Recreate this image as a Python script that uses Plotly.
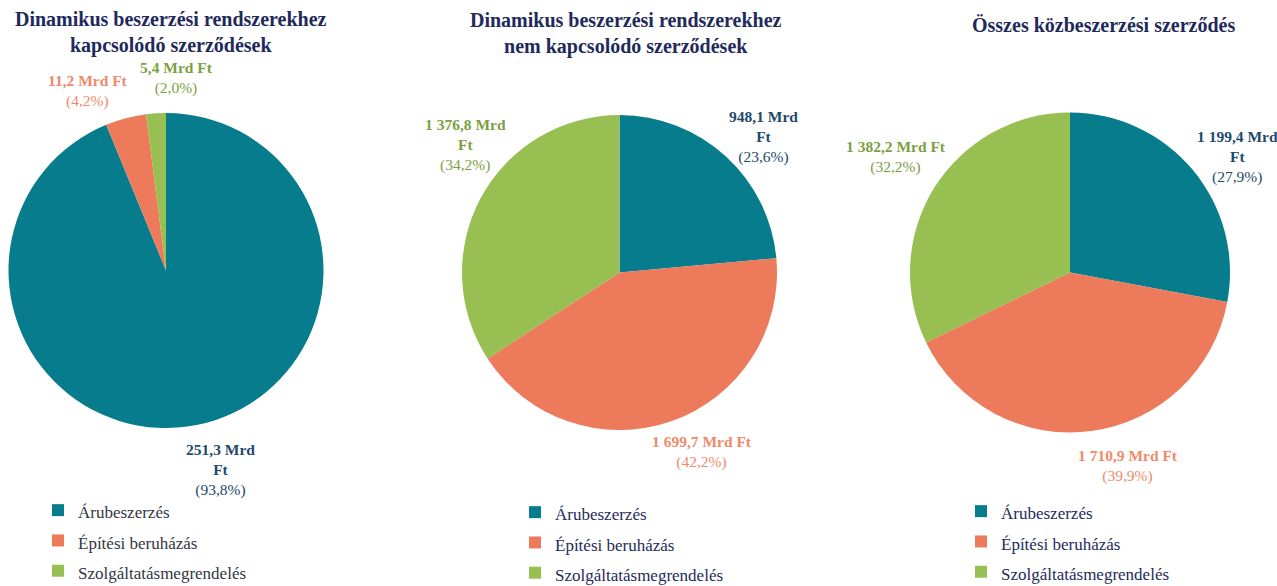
import plotly.graph_objects as go

# ---- data ----
categories = ["Árubeszerzés", "Építési beruházás", "Szolgáltatásmegrendelés"]
chart_titles = [
    "Dinamikus beszerzési rendszerekhez<br>kapcsolódó szerződések",
    "Dinamikus beszerzési rendszerekhez<br>nem kapcsolódó szerződések",
    "Összes közbeszerzési szerződés",
]
values_dbr = [251.3, 11.2, 5.4]
values_nem_dbr = [948.1, 1699.7, 1376.8]
values_osszes = [1199.4, 1710.9, 1382.2]
series = [values_dbr, values_nem_dbr, values_osszes]

# ---- styles / layout ----
W, H = 1277, 586
slice_colors = ["#067C8C", "#EC7A5B", "#97BF51"]
label_colors = ["#21496A", "#F0896A", "#7C9F42"]
title_color = "#1F2A5C"
legend_text_colors = ["#33363F", "#1F2A5C", "#1F2A5C"]
FONT = "Liberation Serif"

pie_centers = [(166, 270.5), (619.5, 272.5), (1070, 272.5)]
pie_radii = [157.5, 157.5, 160]
title_pos = [(171, 32), (626, 34), (1103, 25)]
legend_pos = [(38, 490), (515, 492), (961, 491)]
# label anchor points (px) and whether "Mrd Ft" is wrapped
label_pos = [
    [(220, 470), (88, 91), (176, 78)],
    [(763, 137), (702, 452), (466, 145)],
    [(1237, 157), (1128, 466), (896, 157)],
]
label_wrap = [
    [True, False, False],
    [True, False, True],
    [True, False, False],
]


def hu_num(v):
    s = f"{v:,.1f}"
    return s.replace(",", " ").replace(".", ",")


fig = go.Figure()
annotations = []
for i, vals in enumerate(series):
    cx, cy = pie_centers[i]
    r = pie_radii[i]
    legend_name = "legend" if i == 0 else f"legend{i + 1}"
    # zero-width spaces keep each pie's legend entries distinct
    shown = [f"<span style='font-size:17px'>{c}</span>" + "\u200b" * i for c in categories]
    fig.add_trace(go.Pie(
        labels=shown,
        values=vals,
        sort=False,
        direction="clockwise",
        rotation=0,
        textinfo="none",
        hoverinfo="label+value+percent",
        marker=dict(colors=slice_colors, line=dict(width=0)),
        domain=dict(x=[(cx - r) / W, (cx + r) / W], y=[1 - (cy + r) / H, 1 - (cy - r) / H]),
        legend=legend_name,
        showlegend=True,
    ))
    tx, ty = title_pos[i]
    annotations.append(dict(
        x=tx / W, y=1 - ty / H, xref="paper", yref="paper", xanchor="center", yanchor="middle",
        text=f"<b>{chart_titles[i]}</b>", showarrow=False, align="center",
        font=dict(family=FONT, size=20, color=title_color),
    ))
    total = sum(vals)
    for j, v in enumerate(vals):
        pct = v / total * 100
        sep = "<br>" if label_wrap[i][j] else " "
        txt = f"<b>{hu_num(v)} Mrd{sep}Ft</b><br>({hu_num(pct)}%)"
        lx, ly = label_pos[i][j]
        annotations.append(dict(
            x=lx / W, y=1 - ly / H, xref="paper", yref="paper", xanchor="center", yanchor="middle",
            text=txt, showarrow=False, align="center",
            font=dict(family=FONT, size=15.5, color=label_colors[j]),
        ))

legend_common = dict(
    orientation="v", xanchor="left", yanchor="top", bgcolor="rgba(0,0,0,0)",
    borderwidth=0, traceorder="normal", itemclick=False, itemdoubleclick=False,
)
for i in range(3):
    lx, ly = legend_pos[i]
    key = "legend" if i == 0 else f"legend{i + 1}"
    fig.update_layout(**{key: dict(
        x=lx / W, y=1 - ly / H,
        font=dict(family=FONT, size=21, color=legend_text_colors[i]),
        **legend_common,
    )})

fig.update_layout(
    width=W, height=H,
    margin=dict(l=0, r=0, t=0, b=0, autoexpand=False),
    paper_bgcolor="white", plot_bgcolor="white",
    annotations=annotations,
    font=dict(family=FONT),
)

fig.write_html("out.html", config={"displayModeBar": False},
               post_script="document.body.style.margin='0';")
